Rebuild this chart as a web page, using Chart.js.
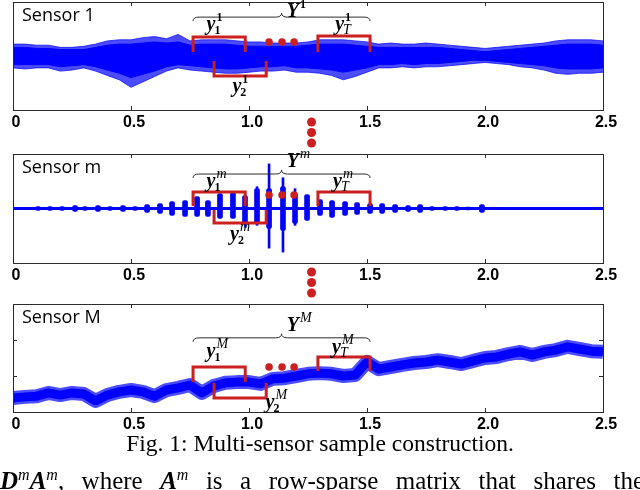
<!DOCTYPE html>
<html>
<head>
<meta charset="utf-8">
<script src="https://cdn.jsdelivr.net/npm/chart.js@4.4.0/dist/chart.umd.min.js"></script>
<style>
  body { margin: 0; background: #fff; width: 640px; height: 490px; overflow: hidden; position: relative; }
  canvas { position: absolute; left: 0; }
  #p1 { top: 0; }
  #p2 { top: 150px; }
  #p3 { top: 300px; }
  .caption { position: absolute; left: 0; top: 432px; width: 640px; text-align: center;
    font-family: "Liberation Serif", serif; font-size: 23.5px; line-height: 23.5px; }
  .next { position: absolute; left: 0; top: 468px; width: 644px; white-space: nowrap;
    font-family: "Liberation Serif", serif; font-size: 25px; line-height: 25px;
    text-align: justify; text-align-last: justify; }
  .next sup { font-size: 16px; font-style: italic; vertical-align: 9px; line-height: 0; }
</style>
</head>
<body>
<canvas id="p1" width="640" height="150"></canvas>
<canvas id="p2" width="640" height="150"></canvas>
<canvas id="p3" width="640" height="140"></canvas>
<div class="caption">Fig. 1: Multi-sensor sample construction.</div>
<div class="next"><b><i>D</i></b><sup>m</sup><b><i>A</i></b><sup>m</sup>, where <b><i>A</i></b><sup>m</sup> is a row-sparse matrix that shares the</div>
<script>
// time axis (seconds) shared by all sensors
const timeAxis = [0, 0.05, 0.1, 0.15, 0.2, 0.25, 0.3, 0.35, 0.4, 0.45, 0.5, 0.55, 0.6, 0.65, 0.7, 0.75, 0.8, 0.85, 0.9, 0.95,
  1, 1.05, 1.1, 1.15, 1.2, 1.25, 1.3, 1.35, 1.4, 1.45, 1.5, 1.55, 1.6, 1.65, 1.7, 1.75, 1.8, 1.85, 1.9, 1.95,
  2, 2.05, 2.1, 2.15, 2.2, 2.25, 2.3, 2.35, 2.4, 2.45, 2.5];
const xTicks = [0, 0.5, 1, 1.5, 2, 2.5];

// sensor 1: outer (spiky) and dense core envelopes of the noisy signal
const sensor1PeakHigh = [11, 11, 10, 10, 8, 8, 9, 11, 14, 15, 15, 17, 18, 16, 20, 14, 15, 15, 15, 14,
  13, 13, 12, 12, 12, 13, 15, 15, 15, 14, 13, 11, 12, 11, 11, 12, 11, 10, 9, 8,
  7, 8, 9, 10, 11, 12, 14, 15, 15, 15, 14];
const sensor1PeakLow = [-11, -12, -11, -11, -14, -13, -11, -14, -18, -22, -29, -24, -19, -14, -11, -13, -14, -15, -16, -16,
  -15, -14, -14, -13, -15, -15, -16, -18, -22, -19, -15, -11, -11, -10, -11, -10, -10, -9, -8, -7,
  -6, -7, -8, -10, -11, -13, -16, -17, -16, -16, -15];
const sensor1CoreHigh = [8, 8, 7, 7, 6, 6, 6, 8, 10, 11, 11, 12, 13, 12, 13, 10, 11, 11, 11, 10,
  9, 9, 9, 9, 9, 10, 11, 11, 11, 10, 9, 8, 8, 8, 8, 8, 8, 7, 6, 5,
  4, 5, 6, 7, 8, 9, 10, 11, 11, 11, 10];
const sensor1CoreLow = [-8, -8, -8, -8, -10, -9, -8, -10, -13, -16, -20, -17, -14, -10, -8, -9, -10, -11, -12, -12,
  -11, -10, -10, -9, -11, -11, -12, -13, -15, -13, -11, -8, -8, -7, -8, -7, -7, -6, -5, -4,
  -4, -5, -6, -7, -8, -9, -11, -12, -12, -12, -11];

// sensor m: bursts around a flat baseline
const burstTimes = [0.106, 0.157, 0.208, 0.263, 0.305, 0.36, 0.411, 0.466, 0.517, 0.568, 0.623, 0.674, 0.729, 0.78,
  0.826, 0.877, 0.932, 0.983, 1.034, 1.085, 1.144, 1.195, 1.246, 1.301, 1.352, 1.407, 1.458, 1.513,
  1.564, 1.619, 1.674, 1.725, 1.775, 1.831, 1.881, 1.928, 1.987, 2.09, 2.2, 2.31, 2.42];
const burstHigh = [2, 2, 2, 3, 2, 3, 2, 3, 2, 4, 5, 7, 8, 12, 8, 15, 16, 13, 20, 20,
  22, 15, 14, 9, 8, 7, 6, 5, 5, 4, 3, 4, 2, 2, 2, 1.5, 4, 1, 1, 1, 1];
const burstLow = [-2, -2, -2, -3, -2, -3, -2, -3, -2, -4, -5, -7, -8, -8, -8, -10, -10, -15, -15, -20,
  -22, -15, -12, -7, -9, -7, -6, -5, -5, -4, -3, -4, -2, -2, -2, -1.5, -4, -1, -1, -1, -1];
const spikeTimes = [0.985, 1.034, 1.085, 1.144, 1.195];
const spikeHigh = [13, 22, 45, 31, 20];
const spikeLow = [-19, -17, -40, -44, -17];

// sensor M: drifting level
const sensorMLevel = [0.39, 0.42, 0.44, 0.53, 0.47, 0.53, 0.5, 0.31, 0.47, 0.56, 0.61, 0.56, 0.44, 0.61, 0.67, 0.75, 0.53, 0.72, 0.81, 0.83,
  0.83, 0.78, 0.92, 0.94, 1.0, 1.06, 1.08, 1.06, 1.0, 1.03, 1.39, 1.19, 1.25, 1.31, 1.36, 1.39, 1.44, 1.39, 1.33, 1.42,
  1.5, 1.53, 1.61, 1.67, 1.58, 1.67, 1.72, 1.81, 1.75, 1.69, 1.67];

// sample windows y_1, y_2, y_T and the dots between them
const windowStart = [0.763, 0.852, 1.292];
const windowEnd = [0.984, 1.073, 1.513];
const gapDots = [1.085, 1.14, 1.191];

const BLUE = "#0000ff";
const HAZE = "rgba(0, 0, 255, 0.7)";
const RED = "#cc1f1f";

function pts(xs, ys) {
  return xs.map((x, i) => ({ x: x, y: ys[i] }));
}

function brace(ctx, x0, x1, y) {
  const xm = (x0 + x1) / 2;
  ctx.beginPath();
  ctx.moveTo(x0, y + 4);
  ctx.quadraticCurveTo(x0, y, x0 + 6, y);
  ctx.lineTo(xm - 6, y);
  ctx.quadraticCurveTo(xm, y, xm, y - 4);
  ctx.quadraticCurveTo(xm, y, xm + 6, y);
  ctx.lineTo(x1 - 6, y);
  ctx.quadraticCurveTo(x1, y, x1, y + 4);
  ctx.stroke();
}

function mathLabel(ctx, x, y, base, sup, sub) {
  ctx.font = 'italic bold 20px "Liberation Serif"';
  ctx.fillText(base, x, y);
  const w = ctx.measureText(base).width;
  const f = s => (/\d/.test(s) ? 'bold 12px "Liberation Serif"' : 'italic 14px "Liberation Serif"');
  if (sup) { ctx.font = f(sup); ctx.fillText(sup, x + w + 1, y - 9); }
  if (sub) { ctx.font = f(sub); ctx.fillText(sub, x + w - 1, y + 4); }
}

const sketchPlugin = {
  id: "sketch",
  afterDatasetsDraw(chart, args, o) {
    const { ctx, chartArea: a, scales: { x, y } } = chart;
    ctx.save();
    // axes box and inward ticks
    ctx.strokeStyle = "#2b2b2b";
    ctx.lineWidth = 1;
    ctx.strokeRect(a.left + 0.5, a.top + 0.5, a.right - a.left, a.bottom - a.top);
    ctx.beginPath();
    xTicks.slice(1, -1).forEach(v => {
      const px = Math.round(x.getPixelForValue(v)) + 0.5;
      ctx.moveTo(px, a.top); ctx.lineTo(px, a.top + 4);
      ctx.moveTo(px, a.bottom); ctx.lineTo(px, a.bottom - 4);
    });
    (o.yTicks || []).forEach(v => {
      const py = Math.round(y.getPixelForValue(v)) + 0.5;
      ctx.moveTo(a.left, py); ctx.lineTo(a.left + 4, py);
      ctx.moveTo(a.right, py); ctx.lineTo(a.right - 4, py);
    });
    ctx.stroke();

    ctx.fillStyle = "#000";
    ctx.font = '18px "Open Sans"';
    ctx.fillText(o.label, a.left + 9, a.top + 19);

    // brace over all windows
    ctx.lineWidth = 1;
    brace(ctx, x.getPixelForValue(windowStart[0]), x.getPixelForValue(windowEnd[2]), y.getPixelForValue(o.brace));

    // windows
    ctx.strokeStyle = RED;
    ctx.lineWidth = 3;
    o.win.forEach((w, i) => {
      const x0 = x.getPixelForValue(windowStart[i]), x1 = x.getPixelForValue(windowEnd[i]);
      const yb = y.getPixelForValue(w[0]), yl = y.getPixelForValue(w[1]);
      ctx.beginPath();
      ctx.moveTo(x0, yl); ctx.lineTo(x0, yb); ctx.lineTo(x1, yb); ctx.lineTo(x1, yl);
      ctx.stroke();
    });
    ctx.fillStyle = RED;
    gapDots.forEach(v => {
      ctx.beginPath();
      ctx.arc(x.getPixelForValue(v), y.getPixelForValue(o.dots), 3.8, 0, Math.PI * 2);
      ctx.fill();
    });
    (o.vdots || []).forEach(d => {
      ctx.beginPath();
      ctx.arc(x.getPixelForValue(1.265), a.bottom + d, 4.5, 0, Math.PI * 2);
      ctx.fill();
    });

    // labels
    ctx.fillStyle = "#000";
    const s = o.idx;
    mathLabel(ctx, x.getPixelForValue(1.16), y.getPixelForValue(o.bigY), "Y", s, "");
    mathLabel(ctx, x.getPixelForValue(o.lab[0][0]), y.getPixelForValue(o.lab[0][1]), "y", s, "1");
    mathLabel(ctx, x.getPixelForValue(o.lab[1][0]), y.getPixelForValue(o.lab[1][1]), "y", s, "2");
    mathLabel(ctx, x.getPixelForValue(o.lab[2][0]), y.getPixelForValue(o.lab[2][1]), "y", s, "T");
    ctx.restore();
  }
};

function makePanel(id, type, datasets, yMin, yMax, top, axisHeight, sketch) {
  return new Chart(document.getElementById(id), {
    type: type,
    data: { datasets: datasets },
    options: {
      responsive: false,
      animation: false,
      layout: { padding: { left: 13, right: 37, top: top, bottom: 0 } },
      plugins: { legend: { display: false }, tooltip: { enabled: false }, sketch: sketch },
      scales: {
        x: {
          type: "linear", min: 0, max: 2.5, offset: false,
          grid: { display: false, drawTicks: false },
          border: { display: false },
          afterBuildTicks: s => { s.ticks = xTicks.map(v => ({ value: v })); },
          afterFit: s => { s.height = axisHeight; },
          ticks: { font: { family: '"Liberation Sans"', size: 16, weight: "bold" }, color: "#000",
            padding: 3, labelOffset: 3, maxRotation: 0, autoSkip: false }
        },
        y: { display: false, min: yMin, max: yMax }
      }
    },
    plugins: [sketchPlugin]
  });
}

makePanel("p1", "line", [
  { data: pts(timeAxis, sensor1PeakHigh), borderColor: HAZE, borderWidth: 1, pointRadius: 0, fill: false },
  { data: pts(timeAxis, sensor1PeakLow), borderColor: HAZE, borderWidth: 1, pointRadius: 0, fill: "-1", backgroundColor: HAZE },
  { data: pts(timeAxis, sensor1CoreHigh), borderColor: BLUE, borderWidth: 1, pointRadius: 0, fill: false },
  { data: pts(timeAxis, sensor1CoreLow), borderColor: BLUE, borderWidth: 1, pointRadius: 0, fill: "-1", backgroundColor: BLUE }
], -50, 50, 2, 40, {
  label: "Sensor 1", idx: "1", brace: 36, bigY: 36, dots: 13,
  win: [[17.6, 3.7], [-18.5, -4.6], [18.5, 3.7]],
  lab: [[0.82, 24], [0.93, -33], [1.365, 24]],
  vdots: [12, 22.5, 33]
});

makePanel("p2", "bar", [
  { type: "line", data: [{ x: 0, y: 0 }, { x: 2.5, y: 0 }], borderColor: BLUE, borderWidth: 3, pointRadius: 0 },
  { data: burstTimes.map((t, i) => ({ x: t, y: [burstLow[i], burstHigh[i]] })), backgroundColor: BLUE,
    barThickness: 5, grouped: false, borderRadius: 2, borderSkipped: false },
  { data: spikeTimes.map((t, i) => ({ x: t, y: [spikeLow[i], spikeHigh[i]] })), backgroundColor: BLUE,
    barThickness: 2, grouped: false }
], -55, 55, 4, 37, {
  label: "Sensor m", idx: "m", brace: 34.8, bigY: 41.9, dots: 13.6,
  win: [[16.6, 2.5], [-14.6, -1.5], [16.6, 2.5]],
  lab: [[0.82, 21.7], [0.92, -31.8], [1.356, 21.7]],
  vdots: [9, 19.5, 30]
});

makePanel("p3", "line", [
  { data: pts(timeAxis, sensorMLevel), borderColor: HAZE, borderWidth: 14, pointRadius: 0, fill: false,
    borderJoinStyle: "round" },
  { data: pts(timeAxis, sensorMLevel), borderColor: BLUE, borderWidth: 9, pointRadius: 0, fill: false,
    borderJoinStyle: "round" }
], 0, 3, 4, 28, {
  label: "Sensor M", idx: "M", brace: 2.06, bigY: 2.25, dots: 1.25, yTicks: [1, 2],
  win: [[1.25, 0.83], [0.39, 0.81], [1.53, 1.14]],
  lab: [[0.82, 1.53], [1.07, 0.11], [1.352, 1.64]]
});
</script>
</body>
</html>
